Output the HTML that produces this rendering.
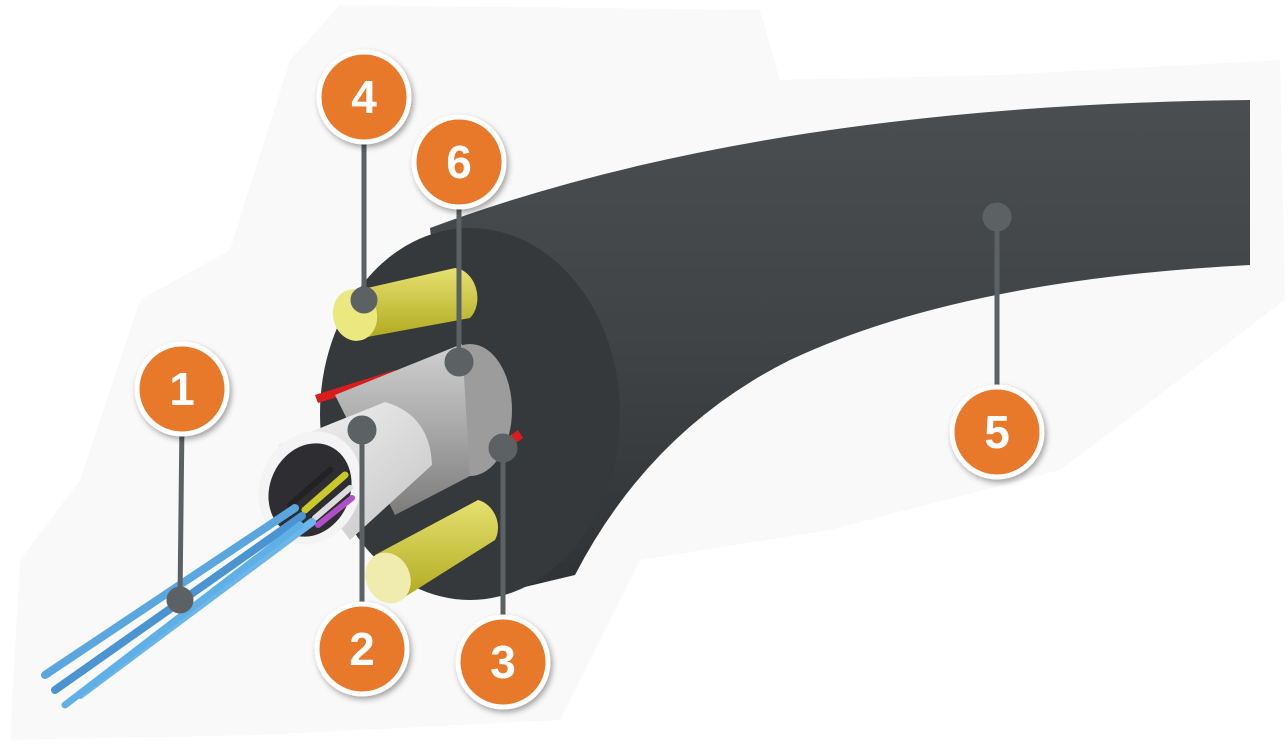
<!DOCTYPE html>
<html><head><style>
html,body{margin:0;padding:0;background:#fff;width:1288px;height:752px;overflow:hidden}
svg{display:block}
text{font-family:"Liberation Sans",sans-serif;font-weight:bold;fill:#fff;text-anchor:middle}
</style></head><body>
<svg width="1288" height="752" viewBox="0 0 1288 752">
<defs>
<linearGradient id="body" x1="0" y1="0" x2="0" y2="1">
<stop offset="0" stop-color="#4a4e50"/><stop offset="0.5" stop-color="#3f4345"/><stop offset="1" stop-color="#2f3234"/>
</linearGradient>
<linearGradient id="braid" x1="0" y1="0" x2="0" y2="1">
<stop offset="0" stop-color="#d0d0d0"/><stop offset="0.5" stop-color="#a8a8a8"/><stop offset="1" stop-color="#7c7c7c"/>
</linearGradient>
<linearGradient id="tube" x1="0" y1="0" x2="1" y2="1">
<stop offset="0" stop-color="#f4f4f4"/><stop offset="1" stop-color="#c4c4c4"/>
</linearGradient>
<linearGradient id="yel" x1="0" y1="0" x2="0" y2="1">
<stop offset="0" stop-color="#e6e070"/><stop offset="1" stop-color="#b0aa20"/>
</linearGradient>
<filter id="sh" x="-30%" y="-30%" width="160%" height="160%"><feDropShadow dx="2" dy="3" stdDeviation="3" flood-opacity="0.35"/></filter>
</defs>
<path d="M340 5 L760 10 L780 80 L1000 75 L1280 60 L1285 300 L1060 470 L830 530 L640 560 L560 720 L260 735 L10 740 L20 560 L80 480 L140 300 L230 250 L290 60 Z" fill="#f9f9f9"/>
<!-- cable body -->
<path d="M430 228 Q760 105 1250 100 L1250 265 Q960 280 790 360 Q650 430 575 575 L470 600 Z" fill="url(#body)"/>
<!-- end face -->
<ellipse cx="470" cy="414" rx="150" ry="186" fill="#36393b"/>
<!-- yellow rods -->
<path d="M350 292 L455 268 A22 28 -10 0 1 470 318 L362 338 Z" fill="url(#yel)"/>
<ellipse cx="355" cy="315" rx="22" ry="26" transform="rotate(-12 355 315)" fill="#ece880"/>
<path d="M375 555 L478 500 A22 26 -20 0 1 495 540 L400 600 Z" fill="url(#yel)"/>
<ellipse cx="388" cy="578" rx="22" ry="26" transform="rotate(-25 388 578)" fill="#f0ecb0"/>
<!-- red strips -->
<path d="M315 395 L395 370 L400 378 L318 403 Z" fill="#d91c1c"/>
<path d="M475 460 L518 430 L523 438 L480 468 Z" fill="#d91c1c"/>
<!-- braid cylinder -->
<ellipse cx="470" cy="410" rx="42" ry="66" fill="#9c9c9c"/>
<path d="M335 395 L462 344 L470 476 L395 515 Z" fill="url(#braid)"/>
<!-- white tube -->
<path d="M278 445 L385 402 Q430 415 432 465 L350 540 Z" fill="url(#tube)"/>
<ellipse cx="310" cy="488" rx="50" ry="58" transform="rotate(25 310 488)" fill="#f4f4f4"/>
<ellipse cx="310" cy="490" rx="40" ry="48" transform="rotate(25 310 490)" fill="#2e2d32"/>
<!-- fibers -->
<g stroke-linecap="round">
<line x1="330" y1="470" x2="290" y2="505" stroke="#222" stroke-width="6"/>
<line x1="345" y1="475" x2="305" y2="510" stroke="#c9c92a" stroke-width="7"/>
<line x1="350" y1="488" x2="315" y2="518" stroke="#ddd" stroke-width="6"/>
<line x1="352" y1="498" x2="318" y2="525" stroke="#b04fc8" stroke-width="6"/>
<line x1="295" y1="508" x2="45" y2="675" stroke="#5aa7e0" stroke-width="8"/>
<line x1="302" y1="516" x2="55" y2="690" stroke="#4a94d2" stroke-width="8"/>
<line x1="312" y1="522" x2="80" y2="695" stroke="#6cb6ea" stroke-width="8"/>
<line x1="300" y1="525" x2="65" y2="705" stroke="#5fb0e6" stroke-width="7"/>
</g>
<!-- leader lines -->
<g stroke="#5c6163" stroke-width="5" fill="#5c6163">
<line x1="182" y1="420" x2="180" y2="600"/><circle cx="180" cy="600" r="11"/>
<line x1="362" y1="620" x2="362" y2="430"/><circle cx="362" cy="430" r="12"/>
<line x1="503" y1="630" x2="503" y2="448"/><circle cx="503" cy="448" r="12"/>
<line x1="364" y1="130" x2="364" y2="300"/><circle cx="364" cy="300" r="11"/>
<line x1="997" y1="400" x2="997" y2="217"/><circle cx="997" cy="217" r="12"/>
<line x1="459" y1="190" x2="459" y2="362"/><circle cx="459" cy="362" r="12"/>
</g>
<g filter="url(#sh)">
<g fill="#e8792a" stroke="#fff" stroke-width="5">
<circle cx="182" cy="389" r="45"/>
<circle cx="362" cy="649" r="45"/>
<circle cx="503" cy="662" r="45"/>
<circle cx="364" cy="97" r="45"/>
<circle cx="997" cy="432" r="45"/>
<circle cx="459" cy="162" r="45"/>
</g>
</g>
<g font-size="46">
<text x="182" y="405">1</text>
<text x="362" y="665">2</text>
<text x="503" y="678">3</text>
<text x="364" y="113">4</text>
<text x="997" y="448">5</text>
<text x="459" y="178">6</text>
</g>
</svg>
</body></html>
